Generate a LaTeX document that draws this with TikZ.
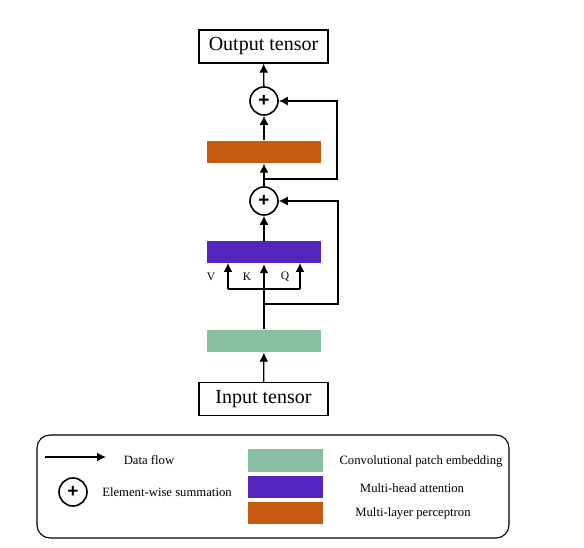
\documentclass[tikz,border=0pt]{standalone}
\usepackage{fontspec}
\setmainfont{Liberation Serif}
\newfontfamily\plusfont{Liberation Sans}
\usetikzlibrary{arrows.meta}
\definecolor{mlp}{HTML}{C55A11}
\definecolor{mha}{HTML}{5525BE}
\definecolor{cpe}{HTML}{88BFA0}
\begin{document}
\begin{tikzpicture}[x=1pt,y=-1pt,
  line width=1.3pt,
  flow/.style={-{Latex[length=9pt,width=9pt]}},
  tbox/.style={draw,line width=1.1pt,minimum width=129pt,minimum height=33pt,inner sep=0pt,font=\fontsize{20}{24}\selectfont},
  bar/.style={minimum width=114pt,minimum height=22pt,inner sep=0pt},
  sumc/.style={draw,circle,line width=1.6pt,minimum size=28pt,inner sep=0pt,font=\plusfont\fontsize{19}{20}\selectfont\bfseries},
  lbl/.style={font=\fontsize{12.7}{14}\selectfont},
  vkq/.style={font=\fontsize{11.5}{13}\selectfont}]
\useasboundingbox (0,0) rectangle (584,548);
% main column
\node[tbox] (out) at (263.5,46.5) {Output tensor};
\node[sumc] (s1) at (264,101) {+};
\node[bar,fill=mlp] (mlp) at (264,152) {};
\node[sumc] (s2) at (264,201) {+};
\node[bar,fill=mha] (mha) at (264,252.5) {};
\node[bar,fill=cpe] (cpe) at (264,341) {};
\node[tbox] (in) at (263.5,399) {Input tensor};
\coordinate (b1) at (264,179);
\coordinate (r1) at (337,179);
\coordinate (r1t) at (337,101);
\coordinate (b2) at (264,304);
\coordinate (r2) at (338,304);
\coordinate (r2t) at (338,201);
\coordinate (hl) at (228,289);
\coordinate (hr) at (300,289);
\coordinate (vt) at (228,263);
\coordinate (qt) at (300,263);
\draw[flow] (in) -- (cpe);
\draw[flow] (cpe.north) -- (mha.south);
\draw[flow] (hl) -- (vt);
\draw[flow] (hr) -- (qt);
\draw (hl) -- (hr);
\draw[flow] (b2) -- (r2) -- (r2t) -- (s2.east);
\draw[flow] (mha) -- (s2);
\draw[flow] (s2) -- (mlp);
\draw[flow] (b1) -- (r1) -- (r1t) -- (s1.east);
\draw[flow] (mlp) -- (s1);
\draw[flow] (s1) -- (out);
\node[vkq] (V) at (211,277) {V};
\node[vkq] (K) at (247,277) {K};
\node[vkq] (Q) at (285,277) {Q};
% legend
\node[draw,line width=1.1pt,rounded corners=13pt,minimum width=472pt,minimum height=103pt,inner sep=0pt] (leg) at (273,486.5) {};
\coordinate (la) at (45,457);
\coordinate (lb) at (106,457);
\draw[flow] (la) -- (lb);
\node[lbl] (tdf) at (149,460) {Data flow};
\node[sumc] (ls) at (73,492) {+};
\node[lbl] (tes) at (167,492) {Element-wise summation};
\node[bar,fill=cpe,minimum width=75pt,minimum height=23pt] (lg) at (285.5,460.5) {};
\node[bar,fill=mha,minimum width=75pt,minimum height=22pt] (lp) at (285.5,487) {};
\node[bar,fill=mlp,minimum width=75pt,minimum height=22pt] (lo) at (285.5,513) {};
\node[lbl] (tg) at (421,461) {Convolutional patch embedding};
\node[lbl] (tp) at (412,488) {Multi-head attention};
\node[lbl] (to) at (413,513) {Multi-layer perceptron};
\end{tikzpicture}
\end{document}
